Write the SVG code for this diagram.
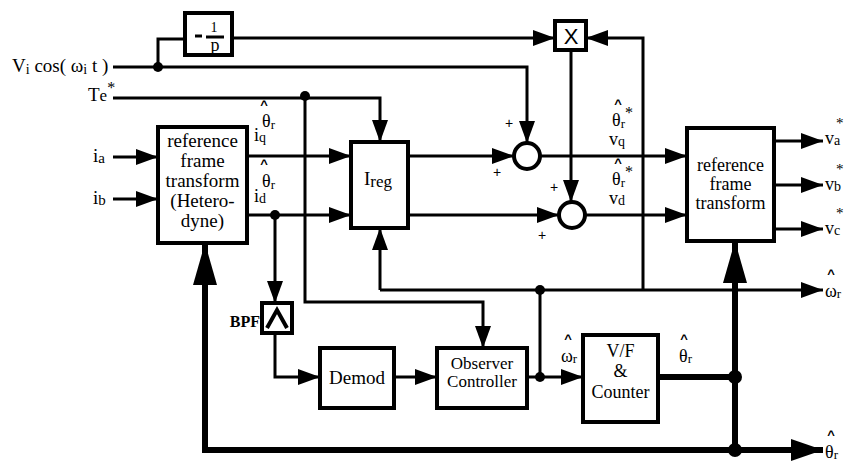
<svg xmlns="http://www.w3.org/2000/svg" width="846" height="462" viewBox="0 0 846 462">
<style>
.t{font-family:"Liberation Serif","Times New Roman",serif;fill:#000;}
.l{fill:none;stroke:#000;stroke-width:3;stroke-linejoin:miter;}
.k{fill:none;stroke:#000;stroke-width:6;}
.b{fill:#fff;stroke:#000;stroke-width:4;}
.h{font-family:"Liberation Sans",Arial,sans-serif;font-weight:bold;font-size:13px;fill:#000;}
.p{font-family:"Liberation Sans",Arial,sans-serif;font-size:14px;fill:#000;}
</style>
<defs>
<marker id="a" markerUnits="userSpaceOnUse" markerWidth="22" markerHeight="16" refX="22" refY="8" orient="auto"><path d="M0,0 L22,8 L0,16 z" fill="#000"/></marker>
<marker id="A" markerUnits="userSpaceOnUse" markerWidth="42" markerHeight="24" refX="42" refY="12" orient="auto"><path d="M0,0 L42,12 L0,24 z" fill="#000"/></marker>
<marker id="B" markerUnits="userSpaceOnUse" markerWidth="32" markerHeight="22" refX="32" refY="11" orient="auto"><path d="M0,0 L32,11 L0,22 z" fill="#000"/></marker>
</defs>
<rect width="846" height="462" fill="#fff"/>

<g id="connectors">
<path class="l" d="M113,67 H527 V143" marker-end="url(#a)"/>
<path class="l" d="M158,67 V39 H185"/>
<path class="l" d="M232,38 H555" marker-end="url(#a)"/>
<path class="l" d="M643,290 V38 H586" marker-end="url(#a)"/>
<path class="l" d="M571,50 V202" marker-end="url(#a)"/>
<path class="l" d="M113,98 H380 V142" marker-end="url(#a)"/>
<path class="l" d="M305,98 V302 H483 V348" marker-end="url(#a)"/>
<path class="l" d="M113,157 H158" marker-end="url(#a)"/>
<path class="l" d="M113,199 H158" marker-end="url(#a)"/>
<path class="l" d="M247,156 H351" marker-end="url(#a)"/>
<path class="l" d="M247,215 H351" marker-end="url(#a)"/>
<path class="l" d="M408,156 H514" marker-end="url(#a)"/>
<path class="l" d="M408,215 H559" marker-end="url(#a)"/>
<path class="l" d="M540,156 H687" marker-end="url(#a)"/>
<path class="l" d="M585,215 H687" marker-end="url(#a)"/>
<path class="l" d="M774,141 H823" marker-end="url(#a)"/>
<path class="l" d="M774,185 H823" marker-end="url(#a)"/>
<path class="l" d="M774,229 H823" marker-end="url(#a)"/>
<path class="l" d="M380,290 H823" marker-end="url(#a)"/>
<path class="l" d="M380,290 V228" marker-end="url(#a)"/>
<path class="l" d="M540,290 V377"/>
<path class="l" d="M275,215 V303" marker-end="url(#a)"/>
<path class="l" d="M275,333 V377 H320" marker-end="url(#a)"/>
<path class="l" d="M394,377 H437" marker-end="url(#a)"/>
<path class="l" d="M527,377 H583" marker-end="url(#a)"/>
<path class="k" d="M735,450 H205 V243" marker-end="url(#A)"/>
<path class="k" d="M735,450 H823" marker-end="url(#B)"/>
<path class="k" d="M658,377 H735"/>
<path class="k" d="M735,450 V241" marker-end="url(#A)"/>
<circle cx="158" cy="67" r="5"/>
<circle cx="305" cy="96" r="5"/>
<circle cx="275" cy="215" r="5"/>
<circle cx="540" cy="290" r="5"/>
<circle cx="540" cy="377" r="5"/>
<circle cx="735" cy="377" r="7"/>
<circle cx="735" cy="450" r="7"/>
</g>

<g id="inv">
<rect class="b" x="185" y="13" width="47" height="42"/>
<line x1="195" y1="36" x2="202" y2="36" stroke="#000" stroke-width="3"/>
<line x1="206" y1="37" x2="224" y2="37" stroke="#000" stroke-width="3"/>
<text class="t" x="214" y="32" font-size="14" text-anchor="middle">1</text>
<text class="t" x="215" y="51" font-size="18" text-anchor="middle">p</text>
</g>

<g id="mult">
<rect class="b" x="555" y="21" width="31" height="29"/>
<text x="571" y="44" font-family="Liberation Sans,Arial,sans-serif" font-size="22" text-anchor="middle">X</text>
</g>

<g id="rft1">
<rect class="b" x="158" y="127" width="89" height="116"/>
<text class="t" font-size="19" text-anchor="middle"><tspan x="202.5" y="147">reference</tspan><tspan x="202.5" y="167">frame</tspan><tspan x="202.5" y="187">transform</tspan><tspan x="202.5" y="207">(Hetero-</tspan><tspan x="202.5" y="227">dyne)</tspan></text>
</g>

<g id="ireg">
<rect class="b" x="351" y="142" width="57" height="86"/>
<text class="t" x="364" y="185" font-size="19">I<tspan font-size="17" dy="2">reg</tspan></text>
</g>

<g id="sumq"><circle class="b" cx="527" cy="156" r="13"/></g>
<g id="sumd"><circle class="b" cx="572" cy="215" r="13"/></g>

<g id="rft2">
<rect class="b" x="687" y="128" width="87" height="113"/>
<text class="t" font-size="18" text-anchor="middle"><tspan x="730.5" y="171">reference</tspan><tspan x="730.5" y="190">frame</tspan><tspan x="730.5" y="209">transform</tspan></text>
</g>

<g id="bpf">
<rect class="b" x="262" y="303" width="30" height="30"/>
<path d="M267,328 L277,310 L287,328" fill="none" stroke="#000" stroke-width="4"/>
</g>

<g id="demod">
<rect class="b" x="320" y="348" width="74" height="60"/>
<text class="t" x="357" y="384" font-size="19" text-anchor="middle">Demod</text>
</g>

<g id="observer">
<rect class="b" x="437" y="348" width="90" height="60"/>
<text class="t" font-size="17" text-anchor="middle"><tspan x="482" y="369">Observer</tspan><tspan x="482" y="387">Controller</tspan></text>
</g>

<g id="vf">
<rect class="b" x="583" y="335" width="75" height="87"/>
<text class="t" font-size="18" text-anchor="middle"><tspan x="620.5" y="357">V/F</tspan><tspan x="620.5" y="377">&amp;</tspan><tspan x="620.5" y="398">Counter</tspan></text>
</g>

<g id="labels">
<text class="t" x="12" y="72" font-size="19">V<tspan font-size="14" dy="2">i</tspan><tspan dy="-2"> cos( ω</tspan><tspan font-size="14" dy="2">i</tspan><tspan dy="-2"> t )</tspan></text>
<text class="t" x="88" y="101" font-size="19">T<tspan font-size="17">e</tspan><tspan font-size="16" dy="-8">*</tspan></text>
<text class="t" x="93" y="162" font-size="19">i<tspan font-size="15" dy="1">a</tspan></text>
<text class="t" x="93" y="204" font-size="19">i<tspan font-size="15" dy="1">b</tspan></text>
<text class="h" x="264" y="109" text-anchor="middle">^</text>
<text class="t" x="262" y="127" font-size="18">θ<tspan font-size="13" dy="2">r</tspan></text>
<text class="t" x="254" y="141" font-size="18">i<tspan font-size="14" dy="1">q</tspan></text>
<text class="h" x="264" y="168" text-anchor="middle">^</text>
<text class="t" x="262" y="187" font-size="18">θ<tspan font-size="13" dy="2">r</tspan></text>
<text class="t" x="254" y="202" font-size="18">i<tspan font-size="14" dy="1">d</tspan></text>
<text class="h" x="618" y="108" text-anchor="middle">^</text>
<text class="t" x="612" y="126" font-size="18">θ<tspan font-size="13" dy="2">r</tspan><tspan font-size="16" dy="-10">*</tspan></text>
<text class="t" x="609" y="145" font-size="18">v<tspan font-size="14" dy="1">q</tspan></text>
<text class="h" x="618" y="167" text-anchor="middle">^</text>
<text class="t" x="612" y="185" font-size="18">θ<tspan font-size="13" dy="2">r</tspan><tspan font-size="16" dy="-10">*</tspan></text>
<text class="t" x="609" y="204" font-size="18">v<tspan font-size="14" dy="1">d</tspan></text>
<text class="p" x="509" y="128" text-anchor="middle">+</text>
<text class="p" x="497" y="177" text-anchor="middle">+</text>
<text class="p" x="554" y="192" text-anchor="middle">+</text>
<text class="p" x="542" y="240" text-anchor="middle">+</text>
<text class="t" x="825" y="144" font-size="18">v<tspan font-size="14" dy="1">a</tspan></text>
<text class="t" x="836" y="128" font-size="15">*</text>
<text class="t" x="825" y="190" font-size="18">v<tspan font-size="14" dy="1">b</tspan></text>
<text class="t" x="836" y="174" font-size="15">*</text>
<text class="t" x="825" y="234" font-size="18">v<tspan font-size="14" dy="1">c</tspan></text>
<text class="t" x="836" y="218" font-size="15">*</text>
<text class="h" x="831" y="278" text-anchor="middle">^</text>
<text class="t" x="825" y="297" font-size="18">ω<tspan font-size="13" dy="1">r</tspan></text>
<text class="h" x="831" y="439" text-anchor="middle">^</text>
<text class="t" x="825" y="458" font-size="18">θ<tspan font-size="13" dy="1">r</tspan></text>
<text class="h" x="568" y="343" text-anchor="middle">^</text>
<text class="t" x="561" y="362" font-size="18">ω<tspan font-size="13" dy="1">r</tspan></text>
<text class="h" x="684" y="343" text-anchor="middle">^</text>
<text class="t" x="679" y="362" font-size="18">θ<tspan font-size="13" dy="1">r</tspan></text>
<text class="t" x="260" y="327" font-size="16" font-weight="bold" text-anchor="end">BPF</text>
</g>
</svg>
